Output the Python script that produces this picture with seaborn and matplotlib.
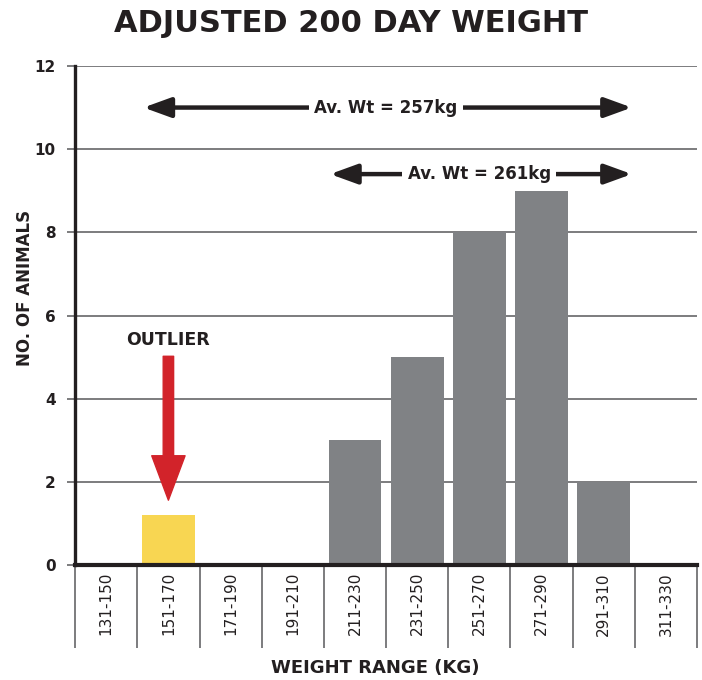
import pandas as pd
import matplotlib.pyplot as plt
import seaborn as sns

# data
ranges = ['131-150', '151-170', '171-190', '191-210', '211-230',
          '231-250', '251-270', '271-290', '291-310', '311-330']
animals = [0, 1.2, 0, 0, 3, 5, 8, 9, 2, 0]
bar_colors = ['#808285', '#F8D652', '#808285', '#808285', '#808285',
              '#808285', '#808285', '#808285', '#808285', '#808285']
avg_labels = ['Av. Wt = 257kg', 'Av. Wt = 261kg']

df = pd.DataFrame({'range': ranges, 'animals': animals})

sns.set_style('white')
plt.rcParams['font.family'] = ['DejaVu Sans']

fig = plt.figure(figsize=(7.02, 6.80), dpi=100)
ax = fig.add_axes([0.107, 0.169, 0.886, 0.734])

sns.barplot(data=df, x='range', y='animals', hue='range', palette=bar_colors,
            legend=False, width=0.85, saturation=1, linewidth=0, ax=ax, zorder=3)

ax.set_ylim(0, 12)
ax.set_xlim(-0.5, 9.5)
ax.set_yticks(range(0, 13, 2))
ax.yaxis.grid(True, color='#58595b', lw=1.1, zorder=0)
ax.set_axisbelow(True)

for s in ['top', 'right']:
    ax.spines[s].set_visible(False)
ax.spines['left'].set_linewidth(2.4)
ax.spines['bottom'].set_linewidth(3)
ax.spines['left'].set_color('#231f20')
ax.spines['bottom'].set_color('#231f20')
ax.spines['bottom'].set_zorder(5)

ax.tick_params(axis='y', left=True, length=6, width=1.1, color='#58595b', labelsize=11, pad=8)
for t in ax.get_yticklabels():
    t.set_fontweight('bold')
    t.set_color('#231f20')

# separators between the weight ranges
ax.set_xticks([i - 0.5 for i in range(11)], minor=True)
ax.tick_params(axis='x', which='minor', bottom=True, length=60, width=1.1, color='#58595b')
ax.tick_params(axis='x', which='major', bottom=True, length=0, labelsize=11, pad=5)
ax.set_xticks(range(len(ranges)))
ax.set_xticklabels(ranges, rotation=90, va='top', color='#231f20')

ax.set_xlabel('')
ax.set_ylabel('')
fig.text(0.036, 0.577, 'NO. OF ANIMALS', rotation=90, ha='center', va='center', fontsize=12,
         fontweight='bold', color='#231f20')
fig.text(0.535, 0.018, 'WEIGHT RANGE (KG)', ha='center', va='center', fontsize=13,
         fontweight='bold', color='#231f20')
fig.suptitle('ADJUSTED 200 DAY WEIGHT', fontsize=22, fontweight='bold', y=0.966, va='center',
             color='#231f20')

# average weight arrows
arrow_kw = dict(arrowstyle='<|-|>,head_length=0.55,head_width=0.2', lw=3.2,
                color='#231f20', shrinkA=0, shrinkB=0, mutation_scale=30)
ax.annotate('', xy=(0.6, 11), xytext=(8.45, 11), arrowprops=arrow_kw, zorder=4)
ax.text(4.5, 11, avg_labels[0], ha='center', va='center', fontsize=12, fontweight='bold',
        color='#231f20', zorder=5, bbox=dict(facecolor='white', edgecolor='none', pad=4))
ax.annotate('', xy=(3.6, 9.4), xytext=(8.45, 9.4), arrowprops=arrow_kw, zorder=4)
ax.text(6.0, 9.4, avg_labels[1], ha='center', va='center', fontsize=12, fontweight='bold',
        color='#231f20', zorder=5, bbox=dict(facecolor='white', edgecolor='none', pad=4))

# outlier marker
ax.annotate('', xy=(1, 1.56), xytext=(1, 5.02),
            arrowprops=dict(arrowstyle='simple,head_length=3.2,head_width=2.4,tail_width=0.75',
                            color='#D2232A', shrinkA=0, shrinkB=0, mutation_scale=10), zorder=4)
ax.text(1, 5.4, 'OUTLIER', ha='center', va='center', fontsize=12.5, fontweight='bold', color='#231f20')

plt.savefig('out.png', dpi=100)
